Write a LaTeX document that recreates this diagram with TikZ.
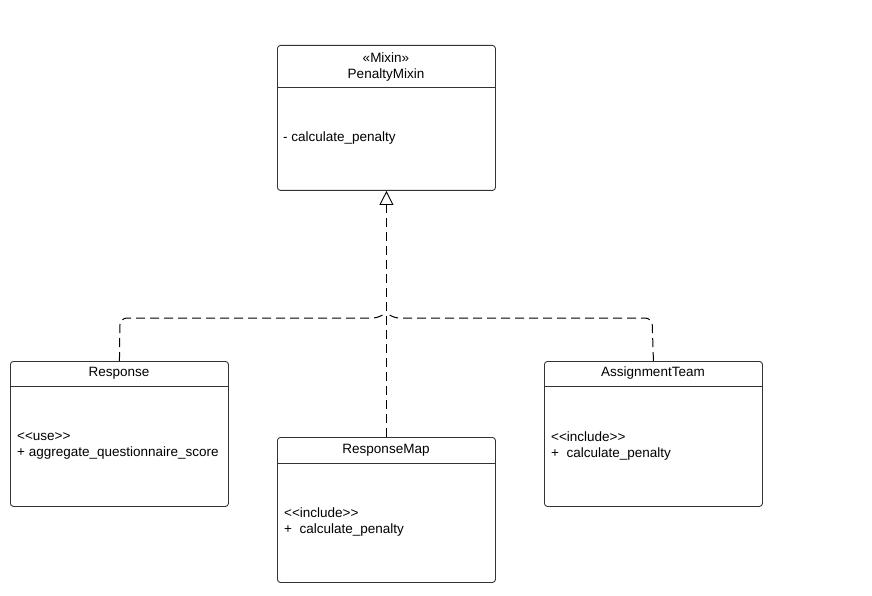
\documentclass[tikz,border=0pt]{standalone}
\usepackage{fontspec}
\setmainfont{Liberation Sans}
\usetikzlibrary{arrows.meta}
\definecolor{boxline}{HTML}{333333}
\tikzset{
  umlbox/.style={draw=boxline, line width=0.9pt, rounded corners=3pt, minimum width=218pt, minimum height=145pt, anchor=north west, inner sep=0pt},
  hdrline/.style={draw=boxline, line width=0.9pt},
  title/.style={font=\fontsize{13.5}{15}\selectfont, inner sep=0pt, anchor=center},
  member/.style={font=\fontsize{13.5}{16.5}\selectfont, inner sep=0pt, anchor=west, align=left},
  dashconn/.style={draw=black, line width=1pt, dash pattern=on 9pt off 5pt},
  realize/.style={dashconn, -{Triangle[open, length=14pt, width=14pt, line width=0.9pt]}}
}
\begin{document}
\begin{tikzpicture}[x=1pt,y=-1pt]
\useasboundingbox (0,0) rectangle (872,596);
% PenaltyMixin
\node[umlbox] (pm) at (277,45) {};
\draw[hdrline] (277,87) -- (495,87);
\node[title] (pmst) at (386,58) {«Mixin»};
\node[title] (pmt) at (386,75) {PenaltyMixin};
\node[member] (pmm) at (283,138) {- calculate\_penalty};
% Response
\node[umlbox] (resp) at (10,361) {};
\draw[hdrline] (10,386) -- (228,386);
\node[title] (respt) at (119,373) {Response};
\node[member] (respm) at (17,446) {<{}<use>{}>\\+ aggregate\_questionnaire\_score};
% ResponseMap
\node[umlbox] (rmap) at (277,437) {};
\draw[hdrline] (277,463) -- (495,463);
\node[title] (rmapt) at (386,450) {ResponseMap};
\node[member] (rmapm) at (284,522) {<{}<include>{}>\\+\ \ calculate\_penalty};
% AssignmentTeam
\node[umlbox] (at) at (544,361) {};
\draw[hdrline] (544,386) -- (762,386);
\node[title] (att) at (653,373) {AssignmentTeam};
\node[member] (atm) at (551,446) {<{}<include>{}>\\+\ \ calculate\_penalty};
% connectors
\coordinate (jl) at (380,318);
\coordinate (jr) at (392,318);
\coordinate (jt) at (386,312);
\draw[realize] (rmap.north) -- (pm.south);
\draw[dashconn, rounded corners=7pt] (resp.north) -- (120,318) -- (jl) -- (jt);
\draw[dashconn, rounded corners=7pt] (at.north) -- (652,318) -- (jr) -- (jt);
\end{tikzpicture}
\end{document}
